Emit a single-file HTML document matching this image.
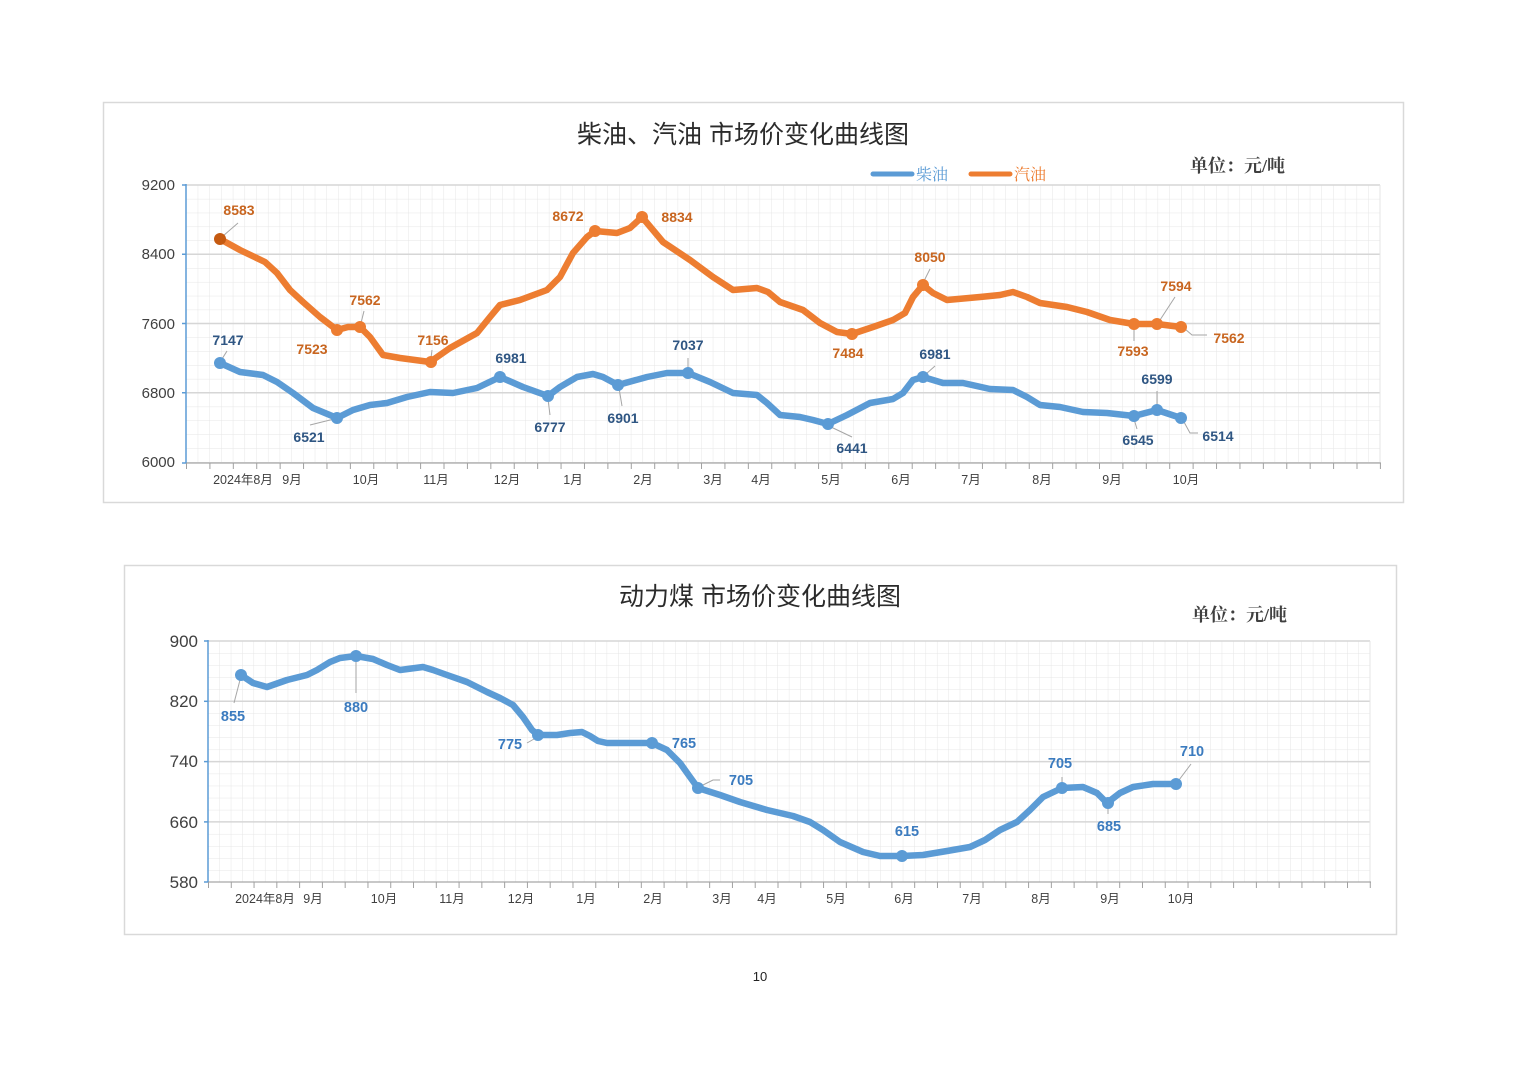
<!DOCTYPE html>
<html><head><meta charset="utf-8"><style>
html,body{margin:0;padding:0;background:#fff;}
svg{display:block;}
.yl{font-family:"Liberation Sans","Noto Sans CJK SC",sans-serif;fill:#404040;}
.xl{font-family:"Liberation Sans","Noto Sans CJK SC",sans-serif;font-size:12.5px;fill:#404040;text-anchor:middle;}
.t{font-family:"Liberation Sans","Noto Sans CJK SC",sans-serif;font-size:25px;fill:#2b2b2b;text-anchor:middle;}
.u{font-family:"Liberation Serif","Noto Serif CJK SC",serif;font-size:18px;font-weight:bold;fill:#404040;}
.lo{font-family:"Liberation Sans",sans-serif;font-size:14px;font-weight:bold;fill:#c8651f;text-anchor:middle;}
.lb{font-family:"Liberation Sans",sans-serif;font-size:14px;font-weight:bold;fill:#2f5683;text-anchor:middle;}
.lc{font-family:"Liberation Sans",sans-serif;font-size:14.5px;font-weight:bold;fill:#3b7bbf;text-anchor:middle;}
.ld{stroke:#a6a6a6;stroke-width:1;fill:none;}
</style></head><body>
<svg width="1520" height="1074" viewBox="0 0 1520 1074" xmlns="http://www.w3.org/2000/svg">
<defs>
<pattern id="g1" x="186" y="185" width="11.706" height="13.85" patternUnits="userSpaceOnUse">
<path d="M0 0V13.85M0 0H11.706" stroke="#e6e6e6" stroke-width="1" fill="none"/>
</pattern>
<pattern id="t1" x="186" y="463" width="23.41" height="6" patternUnits="userSpaceOnUse">
<path d="M0.5 0V6" stroke="#a0a0a0" stroke-width="1"/>
</pattern>
<pattern id="g2" x="208" y="641" width="11.39" height="12.06" patternUnits="userSpaceOnUse">
<path d="M0 0V12.06M0 0H11.39" stroke="#e6e6e6" stroke-width="1" fill="none"/>
</pattern>
<pattern id="t2" x="208" y="882" width="22.78" height="6" patternUnits="userSpaceOnUse">
<path d="M0.5 0V6" stroke="#a0a0a0" stroke-width="1"/>
</pattern>
</defs>

<!-- ========== TOP CHART ========== -->
<rect x="103.5" y="102.5" width="1300" height="400" fill="#fff" stroke="#d9d9d9" stroke-width="1.5"/>
<text class="t" x="743" y="143">柴油、汽油 市场价变化曲线图</text>
<line x1="873" y1="174" x2="912" y2="174" stroke="#5b9bd5" stroke-width="5" stroke-linecap="round"/>
<text x="916" y="180" font-family="Liberation Serif,'Noto Serif CJK SC',serif" font-size="16" fill="#5b9bd5">柴油</text>
<line x1="971" y1="174" x2="1010" y2="174" stroke="#ed7d31" stroke-width="5" stroke-linecap="round"/>
<text x="1014" y="180" font-family="Liberation Serif,'Noto Serif CJK SC',serif" font-size="16" fill="#ed7d31">汽油</text>
<text class="u" x="1190" y="172">单位：元/吨</text>

<rect x="186" y="185" width="1194" height="278" fill="url(#g1)"/>
<g stroke="#d6d6d6" stroke-width="1.5">
<line x1="186" y1="185" x2="1380" y2="185"/>
<line x1="186" y1="254.25" x2="1380" y2="254.25"/>
<line x1="186" y1="323.5" x2="1380" y2="323.5"/>
<line x1="186" y1="392.75" x2="1380" y2="392.75"/>
<line x1="1380" y1="185" x2="1380" y2="463" stroke="#e4e4e4" stroke-width="1"/>
</g>
<line x1="186" y1="463" x2="1381" y2="463" stroke="#a6a6a6" stroke-width="1.2"/>
<rect x="186" y="463" width="1196" height="6" fill="url(#t1)"/>
<line x1="186" y1="184" x2="186" y2="463" stroke="#5b9bd5" stroke-width="1.5"/>
<g stroke="#5b9bd5" stroke-width="1.5"><line x1="182" y1="185" x2="186" y2="185"/><line x1="182" y1="254.25" x2="186" y2="254.25"/><line x1="182" y1="323.5" x2="186" y2="323.5"/><line x1="182" y1="392.75" x2="186" y2="392.75"/><line x1="182" y1="463" x2="186" y2="463"/></g>

<g class="yl" font-size="15" text-anchor="end">
<text x="175" y="190">9200</text>
<text x="175" y="259">8400</text>
<text x="175" y="329">7600</text>
<text x="175" y="398">6800</text>
<text x="175" y="467">6000</text>
</g>
<g class="xl">
<text x="243" y="484">2024年8月</text>
<text x="292" y="484">9月</text>
<text x="366" y="484">10月</text>
<text x="436" y="484">11月</text>
<text x="507" y="484">12月</text>
<text x="573" y="484">1月</text>
<text x="643" y="484">2月</text>
<text x="713" y="484">3月</text>
<text x="761" y="484">4月</text>
<text x="831" y="484">5月</text>
<text x="901" y="484">6月</text>
<text x="971" y="484">7月</text>
<text x="1042" y="484">8月</text>
<text x="1112" y="484">9月</text>
<text x="1186" y="484">10月</text>
</g>

<!-- leaders top -->
<g class="ld">
<path d="M223 236L238 223"/>
<path d="M361 323L364 311"/>
<path d="M431 358L432 350"/>
<path d="M924 281L930 269"/>
<path d="M1160 320L1175 297"/>
<path d="M1185 329L1192 335H1207"/>
<path d="M1134 328V341"/>
<path d="M222 359L227 351"/>
<path d="M334 419L310 425"/>
<path d="M548 399L550 415"/>
<path d="M619 388L622 406"/>
<path d="M688 369V358"/>
<path d="M831 427L852 437"/>
<path d="M926 374L935 366"/>
<path d="M1134 419L1137 429"/>
<path d="M1157 407V391"/>
<path d="M1184 422L1190 433H1198"/>
</g>

<polyline fill="none" stroke="#ed7d31" stroke-width="6.5" stroke-linejoin="round" stroke-linecap="round" points="220,239 240,250 265,262 277,273 290,290 303,302 320,317 337,330 348,327 360,327 370,337 383,355 400,358 430,362 450,348 477,333 490,317 500,305 520,300 547,290 560,277 573,253 587,237 595,231 617,233 630,228 642,217 663,242 690,260 713,277 733,290 757,288 768,292 780,302 803,310 820,323 837,332 852,334 873,327 893,320 905,313 913,297 923,285 933,293 947,300 980,297 1000,295 1013,292 1027,297 1040,303 1067,307 1087,312 1110,320 1134,324 1157,324 1181,327"/>
<polyline fill="none" stroke="#5b9bd5" stroke-width="6.5" stroke-linejoin="round" stroke-linecap="round" points="220,363 240,372 263,375 277,382 293,393 313,408 337,418 353,410 370,405 387,403 407,397 430,392 453,393 477,388 500,377 523,387 548,396 560,387 577,377 593,374 603,377 618,385 647,377 667,373 688,373 710,382 733,393 757,395 767,403 780,415 800,417 813,420 828,424 847,415 870,403 893,399 903,393 913,380 923,377 943,383 963,383 990,389 1013,390 1027,397 1040,405 1060,407 1083,412 1107,413 1134,416 1157,410 1181,418"/>

<g fill="#ed7d31">
<circle cx="220" cy="239" r="6" fill="#c55a11"/>
<circle cx="337" cy="330" r="6"/>
<circle cx="360" cy="327" r="6"/>
<circle cx="431" cy="362" r="6"/>
<circle cx="595" cy="231" r="6"/>
<circle cx="642" cy="217" r="6"/>
<circle cx="852" cy="334" r="6"/>
<circle cx="923" cy="285" r="6"/>
<circle cx="1134" cy="324" r="6"/>
<circle cx="1157" cy="324" r="6"/>
<circle cx="1181" cy="327" r="6"/>
</g>
<g fill="#5b9bd5">
<circle cx="220" cy="363" r="6"/>
<circle cx="337" cy="418" r="6"/>
<circle cx="500" cy="377" r="6"/>
<circle cx="548" cy="396" r="6"/>
<circle cx="618" cy="385" r="6"/>
<circle cx="688" cy="373" r="6"/>
<circle cx="828" cy="424" r="6"/>
<circle cx="923" cy="377" r="6"/>
<circle cx="1134" cy="416" r="6"/>
<circle cx="1157" cy="410" r="6"/>
<circle cx="1181" cy="418" r="6"/>
</g>

<g class="lo">
<text x="239" y="215">8583</text>
<text x="312" y="354">7523</text>
<text x="365" y="305">7562</text>
<text x="433" y="345">7156</text>
<text x="568" y="221">8672</text>
<text x="677" y="222">8834</text>
<text x="930" y="262">8050</text>
<text x="848" y="358">7484</text>
<text x="1133" y="356">7593</text>
<text x="1176" y="291">7594</text>
<text x="1229" y="343">7562</text>
</g>
<g class="lb">
<text x="228" y="345">7147</text>
<text x="309" y="442">6521</text>
<text x="511" y="363">6981</text>
<text x="550" y="432">6777</text>
<text x="623" y="423">6901</text>
<text x="688" y="350">7037</text>
<text x="852" y="453">6441</text>
<text x="935" y="359">6981</text>
<text x="1138" y="445">6545</text>
<text x="1157" y="384">6599</text>
<text x="1218" y="441">6514</text>
</g>

<!-- ========== BOTTOM CHART ========== -->
<rect x="124.5" y="565.5" width="1272" height="369" fill="#fff" stroke="#d9d9d9" stroke-width="1.5"/>
<text class="t" x="760" y="605">动力煤 市场价变化曲线图</text>
<text class="u" x="1192" y="621">单位：元/吨</text>

<rect x="208" y="641" width="1162" height="241" fill="url(#g2)"/>
<g stroke="#d6d6d6" stroke-width="1.5">
<line x1="208" y1="641" x2="1370" y2="641"/>
<line x1="208" y1="701.3" x2="1370" y2="701.3"/>
<line x1="208" y1="761.6" x2="1370" y2="761.6"/>
<line x1="208" y1="821.9" x2="1370" y2="821.9"/>
<line x1="1370" y1="641" x2="1370" y2="882" stroke="#e4e4e4" stroke-width="1"/>
</g>
<line x1="208" y1="882" x2="1371" y2="882" stroke="#a6a6a6" stroke-width="1.2"/>
<rect x="208" y="882" width="1164" height="6" fill="url(#t2)"/>
<line x1="208" y1="640" x2="208" y2="882" stroke="#5b9bd5" stroke-width="1.5"/>
<g stroke="#5b9bd5" stroke-width="1.5"><line x1="204" y1="641" x2="208" y2="641"/><line x1="204" y1="701.3" x2="208" y2="701.3"/><line x1="204" y1="761.6" x2="208" y2="761.6"/><line x1="204" y1="821.9" x2="208" y2="821.9"/><line x1="204" y1="882" x2="208" y2="882"/></g>

<g class="yl" font-size="17" text-anchor="end">
<text x="198" y="647">900</text>
<text x="198" y="707">820</text>
<text x="198" y="767">740</text>
<text x="198" y="828">660</text>
<text x="198" y="888">580</text>
</g>
<g class="xl">
<text x="265" y="903">2024年8月</text>
<text x="313" y="903">9月</text>
<text x="384" y="903">10月</text>
<text x="452" y="903">11月</text>
<text x="521" y="903">12月</text>
<text x="586" y="903">1月</text>
<text x="653" y="903">2月</text>
<text x="722" y="903">3月</text>
<text x="767" y="903">4月</text>
<text x="836" y="903">5月</text>
<text x="904" y="903">6月</text>
<text x="972" y="903">7月</text>
<text x="1041" y="903">8月</text>
<text x="1110" y="903">9月</text>
<text x="1181" y="903">10月</text>
</g>

<g class="ld">
<path d="M240 680L234 703"/>
<path d="M356 662V693"/>
<path d="M534 739L527 743"/>
<path d="M703 785L713 780H720"/>
<path d="M1062 784V777"/>
<path d="M1108 808V814"/>
<path d="M1179 780L1191 764"/>
</g>

<polyline fill="none" stroke="#5b9bd5" stroke-width="6.5" stroke-linejoin="round" stroke-linecap="round" points="241,675 253,683 267,687 287,680 307,675 317,670 330,662 340,658 356,656 373,659 387,665 400,670 423,667 433,670 447,675 467,682 487,692 500,698 513,705 523,717 532,730 538,735 557,735 570,733 582,732 590,736 598,741 607,743 630,743 652,743 667,750 680,763 690,777 698,788 720,795 740,802 767,810 793,816 810,822 823,830 840,842 863,852 880,856 902,856 923,855 947,851 970,847 985,840 1000,830 1017,822 1030,810 1043,797 1062,788 1083,787 1097,793 1107,803 1120,793 1133,787 1153,784 1176,784"/>
<g fill="#5b9bd5">
<circle cx="241" cy="675" r="6"/>
<circle cx="356" cy="656" r="6"/>
<circle cx="538" cy="735" r="6"/>
<circle cx="652" cy="743" r="6"/>
<circle cx="698" cy="788" r="6"/>
<circle cx="902" cy="856" r="6"/>
<circle cx="1062" cy="788" r="6"/>
<circle cx="1108" cy="803" r="6"/>
<circle cx="1176" cy="784" r="6"/>
</g>
<g class="lc">
<text x="233" y="721">855</text>
<text x="356" y="712">880</text>
<text x="510" y="749">775</text>
<text x="684" y="748">765</text>
<text x="741" y="785">705</text>
<text x="907" y="836">615</text>
<text x="1060" y="768">705</text>
<text x="1109" y="831">685</text>
<text x="1192" y="756">710</text>
</g>

<text x="760" y="981" font-family="Liberation Sans,sans-serif" font-size="13" fill="#222" text-anchor="middle">10</text>
</svg>
</body></html>
